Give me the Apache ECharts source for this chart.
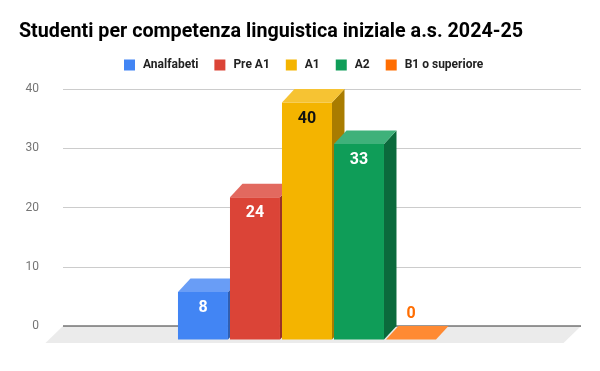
<!DOCTYPE html>
<html><head><meta charset="utf-8">
<script src="https://cdn.jsdelivr.net/npm/echarts@6/dist/echarts.min.js"></script>
<style>html,body{margin:0;padding:0;background:#fff}#c{width:600px;height:371px}</style>
</head><body><div id="c"></div>
<script>
var titleText = 'Studenti per competenza linguistica iniziale a.s. 2024-25';
var categories = ['Studenti'];
var seriesNames = ['Analfabeti', 'Pre A1', 'A1', 'A2', 'B1 o superiore'];
var seriesValues = [[8], [24], [40], [33], [0]];
var yTicks = [0, 10, 20, 30, 40];

var frontColors = ['#4285f4', '#db4437', '#f4b400', '#0f9d58', '#ff6d01'];
var topColors = ['#699df6', '#e2695f', '#f6c333', '#3fb17a', '#ff8a33'];
var sideColors = ['#2f5fb2', '#9b3027', '#a97c00', '#0b6a3c', '#b34c00'];
var labelColors = ['#ffffff', '#ffffff', '#111111', '#ffffff', '#ff6d01'];

var DX = 12.5, DY = 13.5;      // depth of bars
var FDX = 17.5, FDY = 17;      // depth of floor
var BAR_W = 0.0965, BAR_STEP = 0.1004, GROUP_START = -0.2539;

function barRender(idx) {
  return function (params, api) {
    var v = api.value(1);
    var band = api.size([1, 0])[0];
    var base = api.coord([api.value(0), 0]);
    var topP = api.coord([api.value(0), v]);
    var w = band * BAR_W;
    var bl = base[0] + band * (GROUP_START + BAR_STEP * idx); // back-left x
    var y0 = base[1], yv = topP[1];
    var fl = bl - DX, fr = fl + w;
    var ft = yv + DY, fb = y0 + DY;
    var children = [];
    children.push({type: 'polygon', shape: {points: [[fr, ft], [fr + DX, yv], [fr + DX, y0], [fr, fb]]},
      style: {fill: sideColors[idx]}});
    if (fb - ft > 0.5) children.push({type: 'rect', shape: {x: fl, y: ft, width: w, height: fb - ft},
      style: {fill: frontColors[idx]}});
    children.push({type: 'polygon', shape: {points: [[fl, ft], [fr, ft], [fr + DX, yv], [fl + DX, yv]]},
      style: {fill: topColors[idx]}});
    var inside = (fb - ft) > 30;
    children.push({type: 'text', style: {
      text: String(v), x: fl + w / 2, y: inside ? ft + 16 : yv - 12,
      textAlign: 'center', textVerticalAlign: 'middle',
      font: 'bold 16px Roboto', fill: labelColors[idx]}});
    return {type: 'group', children: children};
  };
}

var series = [{
  type: 'custom', name: '_floor', silent: true, z: 1,
  data: [[0, 0]],
  renderItem: function (params, api) {
    var cs = params.coordSys;
    var y0 = api.coord([0, 0])[1];
    var x1 = cs.x, x2 = cs.x + cs.width;
    return {type: 'group', children: [
      {type: 'polygon', shape: {points: [[x1, y0], [x2, y0], [x2 - FDX, y0 + FDY], [x1 - FDX, y0 + FDY]]},
        style: {fill: '#ebebeb'}},
      {type: 'line', shape: {x1: x1, y1: y0, x2: x2, y2: y0}, style: {stroke: '#333333', lineWidth: 1.2}}
    ]};
  }
}];
seriesNames.forEach(function (n, i) {
  series.push({
    type: 'custom', name: n, z: 3 + i,
    itemStyle: {color: frontColors[i]},
    data: seriesValues[i].map(function (v, k) { return [k, v]; }),
    renderItem: barRender(i)
  });
});

var chart = echarts.init(document.getElementById('c'), null, {renderer: 'canvas'});
chart.setOption({
  animation: false,
  backgroundColor: '#ffffff',
  title: {text: titleText, left: 14, top: 17,
    textStyle: {fontFamily: 'Roboto', fontWeight: 'bold', fontSize: 19.7, color: '#000000'}},
  legend: {data: seriesNames, left: 119, top: 54, icon: 'rect', itemWidth: 11, itemHeight: 11, itemGap: 16,
    textStyle: {fontFamily: 'Roboto', fontWeight: 'bold', fontSize: 12, color: '#222222', padding: [0, 0, 0, 3]}},
  grid: {left: 63, right: 19, top: 89, bottom: 45, containLabel: false},
  xAxis: {type: 'category', data: categories, axisLine: {show: false}, axisTick: {show: false},
    axisLabel: {show: false}, splitLine: {show: false}},
  yAxis: {type: 'value', min: yTicks[0], max: yTicks[yTicks.length - 1], interval: 10,
    axisLine: {show: false}, axisTick: {show: false},
    axisLabel: {margin: 24, fontFamily: 'Roboto', fontSize: 12, color: '#757575'},
    splitLine: {lineStyle: {color: '#cccccc', width: 1}}},
  series: series
});
</script></body></html>
